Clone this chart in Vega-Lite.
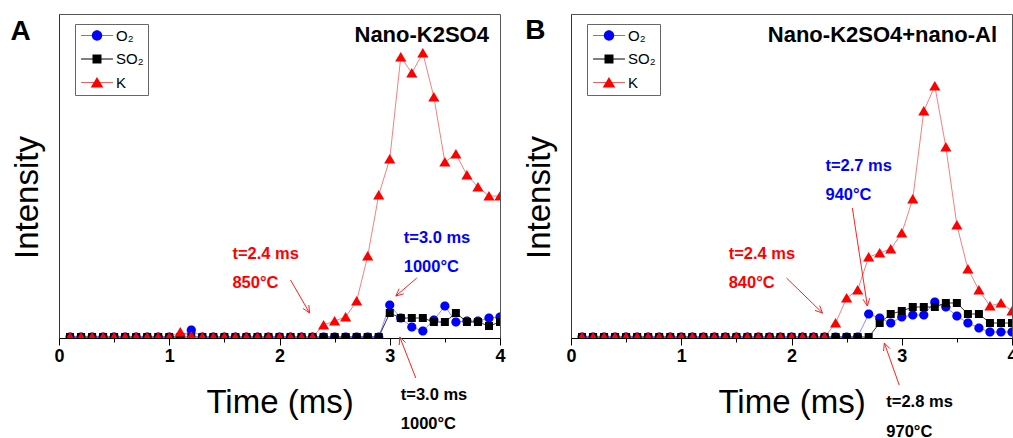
{
"$schema": "https://vega.github.io/schema/vega-lite/v6.json",
"padding": {"left": 9, "top": 13, "right": 0, "bottom": 0},
"bounds": "flush",
"spacing": 71,
"resolve": {"scale": {"color": "independent", "shape": "independent", "stroke": "independent"}, "legend": {"color": "independent", "shape": "independent", "stroke": "independent"}},
"config": {
  "font": "Liberation Sans",
  "view": {"stroke": "#555", "strokeWidth": 1},
  "axisX": {"domainColor": "#000", "domainWidth": 1.2, "tickColor": "#000", "tickWidth": 1, "labelFontSize": 18, "labelFontWeight": "bold", "labelColor": "#000", "labelPadding": 2, "titleFontSize": 33, "titleFontWeight": "normal", "titleColor": "#000", "titleBaseline": "alphabetic", "titleY": 74, "grid": false, "labelFlush": false, "labelOverlap": false, "labelBound": false},
  "axisY": {"domainColor": "#333", "domainWidth": 1, "ticks": false, "labels": false, "grid": false, "titleFontSize": 33, "titleFontWeight": "normal", "titleColor": "#000", "titleBaseline": "alphabetic", "titleX": -22, "titleY": 183},
  "legend": {"orient": "none", "legendX": 16, "legendY": 10, "title": null, "padding": 4, "symbolSize": 81, "symbolOffset": 10.5, "labelOffset": 11.5, "rowPadding": 7.5, "labelFontSize": 15, "labelColor": "#000"}
},
"datasets": {
  "series": [
    {"p":"A","t":0.1,"O2":2,"SO2":2,"K":2},{"p":"A","t":0.2,"O2":2,"SO2":2,"K":2},{"p":"A","t":0.3,"O2":2,"SO2":2,"K":2},{"p":"A","t":0.4,"O2":2,"SO2":2,"K":2},{"p":"A","t":0.5,"O2":2,"SO2":2,"K":2},
    {"p":"A","t":0.6,"O2":2,"SO2":2,"K":2},{"p":"A","t":0.7,"O2":2,"SO2":2,"K":2},{"p":"A","t":0.8,"O2":2,"SO2":2,"K":2},{"p":"A","t":0.9,"O2":2,"SO2":2,"K":2},{"p":"A","t":1.0,"O2":2,"SO2":2,"K":2},
    {"p":"A","t":1.1,"O2":2,"SO2":2,"K":7},{"p":"A","t":1.2,"O2":9,"SO2":2,"K":3},{"p":"A","t":1.3,"O2":2,"SO2":2,"K":2},{"p":"A","t":1.4,"O2":2,"SO2":2,"K":2},{"p":"A","t":1.5,"O2":2,"SO2":2,"K":2},
    {"p":"A","t":1.6,"O2":2,"SO2":2,"K":2},{"p":"A","t":1.7,"O2":2,"SO2":2,"K":2},{"p":"A","t":1.8,"O2":2,"SO2":2,"K":2},{"p":"A","t":1.9,"O2":2,"SO2":2,"K":2},{"p":"A","t":2.0,"O2":2,"SO2":2,"K":2},
    {"p":"A","t":2.1,"O2":2,"SO2":2,"K":2},{"p":"A","t":2.2,"O2":2,"SO2":2,"K":2},{"p":"A","t":2.3,"O2":2,"SO2":2,"K":2},{"p":"A","t":2.4,"O2":2,"SO2":2,"K":14},{"p":"A","t":2.5,"O2":2,"SO2":2,"K":18},
    {"p":"A","t":2.6,"O2":2,"SO2":2,"K":22},{"p":"A","t":2.7,"O2":2,"SO2":2,"K":38},{"p":"A","t":2.8,"O2":2,"SO2":2,"K":83},{"p":"A","t":2.9,"O2":2,"SO2":2,"K":144},{"p":"A","t":3.0,"O2":34,"SO2":26,"K":180},
    {"p":"A","t":3.1,"O2":21,"SO2":21,"K":282},{"p":"A","t":3.2,"O2":12,"SO2":21,"K":266},{"p":"A","t":3.3,"O2":8,"SO2":21,"K":286},{"p":"A","t":3.4,"O2":19,"SO2":17,"K":242},{"p":"A","t":3.5,"O2":33,"SO2":17,"K":177},
    {"p":"A","t":3.6,"O2":17,"SO2":26,"K":185},{"p":"A","t":3.7,"O2":18,"SO2":17,"K":164},{"p":"A","t":3.8,"O2":18,"SO2":17,"K":152},{"p":"A","t":3.9,"O2":21,"SO2":13,"K":143},{"p":"A","t":4.0,"O2":22,"SO2":17,"K":143},
    {"p":"B","t":0.1,"O2":2,"SO2":2,"K":2},{"p":"B","t":0.2,"O2":2,"SO2":2,"K":2},{"p":"B","t":0.3,"O2":2,"SO2":2,"K":2},{"p":"B","t":0.4,"O2":2,"SO2":2,"K":2},{"p":"B","t":0.5,"O2":2,"SO2":2,"K":2},
    {"p":"B","t":0.6,"O2":2,"SO2":2,"K":2},{"p":"B","t":0.7,"O2":2,"SO2":2,"K":2},{"p":"B","t":0.8,"O2":2,"SO2":2,"K":2},{"p":"B","t":0.9,"O2":2,"SO2":2,"K":2},{"p":"B","t":1.0,"O2":2,"SO2":2,"K":2},
    {"p":"B","t":1.1,"O2":2,"SO2":2,"K":2},{"p":"B","t":1.2,"O2":2,"SO2":2,"K":2},{"p":"B","t":1.3,"O2":2,"SO2":2,"K":2},{"p":"B","t":1.4,"O2":2,"SO2":2,"K":2},{"p":"B","t":1.5,"O2":2,"SO2":2,"K":2},
    {"p":"B","t":1.6,"O2":2,"SO2":2,"K":2},{"p":"B","t":1.7,"O2":2,"SO2":2,"K":2},{"p":"B","t":1.8,"O2":2,"SO2":2,"K":2},{"p":"B","t":1.9,"O2":2,"SO2":2,"K":2},{"p":"B","t":2.0,"O2":2,"SO2":2,"K":2},
    {"p":"B","t":2.1,"O2":2,"SO2":2,"K":2},{"p":"B","t":2.2,"O2":2,"SO2":2,"K":2},{"p":"B","t":2.3,"O2":2,"SO2":2,"K":2},{"p":"B","t":2.4,"O2":2,"SO2":2,"K":16},{"p":"B","t":2.5,"O2":2,"SO2":2,"K":41},
    {"p":"B","t":2.6,"O2":2,"SO2":2,"K":49},{"p":"B","t":2.7,"O2":25,"SO2":2,"K":82},{"p":"B","t":2.8,"O2":21,"SO2":16,"K":86},{"p":"B","t":2.9,"O2":16,"SO2":25,"K":90},{"p":"B","t":3.0,"O2":22,"SO2":28,"K":106},
    {"p":"B","t":3.1,"O2":24,"SO2":32,"K":140},{"p":"B","t":3.2,"O2":24,"SO2":32,"K":228},{"p":"B","t":3.3,"O2":37,"SO2":32,"K":253},{"p":"B","t":3.4,"O2":32,"SO2":36,"K":192},{"p":"B","t":3.5,"O2":23,"SO2":36,"K":114},
    {"p":"B","t":3.6,"O2":16,"SO2":25,"K":70},{"p":"B","t":3.7,"O2":11,"SO2":25,"K":49},{"p":"B","t":3.8,"O2":7,"SO2":16,"K":33},{"p":"B","t":3.9,"O2":7,"SO2":16,"K":36},{"p":"B","t":4.0,"O2":7,"SO2":16,"K":28}
  ],
  "notes": [
    {"p":"A","s":"K","t":1.573,"v":80,"text":"t=2.4 ms"},
    {"p":"A","s":"K","t":1.573,"v":51,"text":"850°C"},
    {"p":"A","s":"O2","t":3.127,"v":96,"text":"t=3.0 ms"},
    {"p":"A","s":"O2","t":3.127,"v":67,"text":"1000°C"},
    {"p":"A","s":"SO2","t":3.1,"v":-61,"text":"t=3.0 ms"},
    {"p":"A","s":"SO2","t":3.1,"v":-90,"text":"1000°C"},
    {"p":"B","s":"O2","t":2.308,"v":168,"text":"t=2.7 ms"},
    {"p":"B","s":"O2","t":2.308,"v":139,"text":"940°C"},
    {"p":"B","s":"K","t":1.43,"v":80,"text":"t=2.4 ms"},
    {"p":"B","s":"K","t":1.43,"v":51,"text":"840°C"},
    {"p":"B","s":"SO2","t":2.86,"v":-68,"text":"t=2.8 ms"},
    {"p":"B","s":"SO2","t":2.86,"v":-98,"text":"970°C"}
  ],
  "arrows": [
    {"p":"A","t":2.100,"v":59,"t2":2.273,"v2":26},
    {"p":"A","t":2.273,"v":26,"t2":2.266,"v2":34},
    {"p":"A","t":2.273,"v":26,"t2":2.213,"v2":30.6},
    {"p":"A","t":3.245,"v":61,"t2":3.055,"v2":43},
    {"p":"A","t":3.055,"v":43,"t2":3.125,"v2":45.1},
    {"p":"A","t":3.055,"v":43,"t2":3.085,"v2":50.3},
    {"p":"A","t":3.236,"v":-39,"t2":3.091,"v2":2},
    {"p":"A","t":3.091,"v":2,"t2":3.086,"v2":-6},
    {"p":"A","t":3.091,"v":2,"t2":3.144,"v2":-3.5},
    {"p":"B","t":1.955,"v":61,"t2":2.281,"v2":26},
    {"p":"B","t":2.281,"v":26,"t2":2.255,"v2":33.5},
    {"p":"B","t":2.281,"v":26,"t2":2.212,"v2":28.6},
    {"p":"B","t":2.552,"v":131,"t2":2.688,"v2":33},
    {"p":"B","t":2.688,"v":33,"t2":2.709,"v2":40.7},
    {"p":"B","t":2.688,"v":33,"t2":2.648,"v2":39.7},
    {"p":"B","t":2.977,"v":-46,"t2":2.842,"v2":-4},
    {"p":"B","t":2.842,"v":-4,"t2":2.835,"v2":-12},
    {"p":"B","t":2.842,"v":-4,"t2":2.893,"v2":-9.7}
  ],
  "panels": [
    {"p":"A","letter":"A","name":"Nano-K2SO4"},
    {"p":"B","letter":"B","name":"Nano-K2SO4+nano-Al"}
  ]
},
"hconcat": [
  {
    "width": 441, "height": 324,
    "layer": [
      {"data": {"name": "series"}, "transform": [{"filter": "datum.p==='A'"}, {"fold": ["O2","SO2","K"], "as": ["s","v"]}],
       "mark": {"type": "line", "strokeWidth": 0.8, "clip": true},
       "encoding": {
         "x": {"field": "t", "type": "quantitative", "scale": {"domain": [0,4], "nice": false, "zero": false},
               "axis": {"title": "Time (ms)", "values": [0,0.5,1,1.5,2,2.5,3,3.5,4], "labelExpr": "datum.value % 1 === 0 ? format(datum.value,'d') : ''", "tickSize": {"condition": {"test": "datum.value % 1 === 0", "value": 7}, "value": 4}}},
         "y": {"field": "v", "type": "quantitative", "scale": {"domain": [1,325], "nice": false, "zero": false}, "axis": {"title": "Intensity"}},
         "stroke": {"field": "s", "type": "nominal", "scale": {"domain": ["SO2","O2","K"], "range": ["#000000","#7070ff","#f06060"]},
           "legend": {"values": ["O2","SO2","K"], "symbolType": "M-3.55,0H3.55", "symbolStrokeWidth": 1, "labelOpacity": 0, "strokeColor": "transparent", "fillColor": "transparent",
             "labelExpr": "datum.value==='O2' ? 'O₂' : datum.value==='SO2' ? 'SO₂' : 'K'"}}
       }},
      {"data": {"name": "series"}, "transform": [{"filter": "datum.p==='A'"}, {"fold": ["O2","SO2","K"], "as": ["s","v"]}],
       "mark": {"type": "point", "filled": true, "opacity": 1, "size": 64, "clip": true},
       "encoding": {
         "x": {"field": "t", "type": "quantitative"},
         "y": {"field": "v", "type": "quantitative"},
         "color": {"field": "s", "type": "nominal", "scale": {"domain": ["O2","SO2","K"], "range": ["#0000ff","#000000","#ff0000"]},
           "legend": {"strokeColor": "#666", "fillColor": "transparent", "labelExpr": "datum.value==='O2' ? 'O₂' : datum.value==='SO2' ? 'SO₂' : 'K'"}},
         "shape": {"field": "s", "type": "nominal", "scale": {"domain": ["O2","SO2","K"], "range": ["M1.15,0A1.15,1.15,0,1,1,-1.15,0A1.15,1.15,0,1,1,1.15,0Z","M-1,-1H1V1H-1Z","M0,-1.25L1.4,1.1H-1.4Z"]}}
       }},
      {"data": {"name": "arrows"}, "transform": [{"filter": "datum.p==='A'"}],
       "mark": {"type": "rule", "color": "#ff2020", "strokeWidth": 1, "clip": false},
       "encoding": {"x": {"field": "t", "type": "quantitative"}, "y": {"field": "v", "type": "quantitative"}, "x2": {"field": "t2"}, "y2": {"field": "v2"}}},
      {"data": {"name": "notes"}, "transform": [{"filter": "datum.p==='A'"}],
       "mark": {"type": "text", "align": "left", "baseline": "alphabetic", "fontSize": 16.5, "fontWeight": "bold", "clip": false},
       "encoding": {"x": {"field": "t", "type": "quantitative"}, "y": {"field": "v", "type": "quantitative"}, "text": {"field": "text"},
         "fill": {"condition": [{"test": "datum.s==='O2'", "value": "#0000ff"}, {"test": "datum.s==='K'", "value": "#ff0000"}], "value": "#000000"}}},
      {"data": {"name": "panels"}, "transform": [{"filter": "datum.p==='A'"}],
       "mark": {"type": "text", "align": "right", "baseline": "alphabetic", "fontSize": 22, "fontWeight": "bold", "color": "#000"},
       "encoding": {"x": {"datum": 3.9, "type": "quantitative"}, "y": {"datum": 297, "type": "quantitative"}, "text": {"field": "name"}}},
      {"data": {"name": "panels"}, "transform": [{"filter": "datum.p==='A'"}],
       "mark": {"type": "text", "align": "left", "baseline": "alphabetic", "fontSize": 28, "fontWeight": "bold", "color": "#000", "clip": false},
       "encoding": {"x": {"datum": -0.44, "type": "quantitative"}, "y": {"datum": 299, "type": "quantitative"}, "text": {"field": "letter"}}}
    ]
  },
  {
    "width": 441, "height": 324,
    "layer": [
      {"data": {"name": "series"}, "transform": [{"filter": "datum.p==='B'"}, {"fold": ["O2","SO2","K"], "as": ["s","v"]}],
       "mark": {"type": "line", "strokeWidth": 0.8, "clip": true},
       "encoding": {
         "x": {"field": "t", "type": "quantitative", "scale": {"domain": [0,4], "nice": false, "zero": false},
               "axis": {"title": "Time (ms)", "values": [0,0.5,1,1.5,2,2.5,3,3.5,4], "labelExpr": "datum.value % 1 === 0 ? format(datum.value,'d') : ''", "tickSize": {"condition": {"test": "datum.value % 1 === 0", "value": 7}, "value": 4}}},
         "y": {"field": "v", "type": "quantitative", "scale": {"domain": [1,325], "nice": false, "zero": false}, "axis": {"title": "Intensity"}},
         "stroke": {"field": "s", "type": "nominal", "scale": {"domain": ["SO2","O2","K"], "range": ["#000000","#7070ff","#f06060"]},
           "legend": {"values": ["O2","SO2","K"], "symbolType": "M-3.55,0H3.55", "symbolStrokeWidth": 1, "labelOpacity": 0, "strokeColor": "transparent", "fillColor": "transparent",
             "labelExpr": "datum.value==='O2' ? 'O₂' : datum.value==='SO2' ? 'SO₂' : 'K'"}}
       }},
      {"data": {"name": "series"}, "transform": [{"filter": "datum.p==='B'"}, {"fold": ["O2","SO2","K"], "as": ["s","v"]}],
       "mark": {"type": "point", "filled": true, "opacity": 1, "size": 64, "clip": true},
       "encoding": {
         "x": {"field": "t", "type": "quantitative"},
         "y": {"field": "v", "type": "quantitative"},
         "color": {"field": "s", "type": "nominal", "scale": {"domain": ["O2","SO2","K"], "range": ["#0000ff","#000000","#ff0000"]},
           "legend": {"strokeColor": "#666", "fillColor": "transparent", "labelExpr": "datum.value==='O2' ? 'O₂' : datum.value==='SO2' ? 'SO₂' : 'K'"}},
         "shape": {"field": "s", "type": "nominal", "scale": {"domain": ["O2","SO2","K"], "range": ["M1.15,0A1.15,1.15,0,1,1,-1.15,0A1.15,1.15,0,1,1,1.15,0Z","M-1,-1H1V1H-1Z","M0,-1.25L1.4,1.1H-1.4Z"]}}
       }},
      {"data": {"name": "arrows"}, "transform": [{"filter": "datum.p==='B'"}],
       "mark": {"type": "rule", "color": "#ff2020", "strokeWidth": 1, "clip": false},
       "encoding": {"x": {"field": "t", "type": "quantitative"}, "y": {"field": "v", "type": "quantitative"}, "x2": {"field": "t2"}, "y2": {"field": "v2"}}},
      {"data": {"name": "notes"}, "transform": [{"filter": "datum.p==='B'"}],
       "mark": {"type": "text", "align": "left", "baseline": "alphabetic", "fontSize": 16.5, "fontWeight": "bold", "clip": false},
       "encoding": {"x": {"field": "t", "type": "quantitative"}, "y": {"field": "v", "type": "quantitative"}, "text": {"field": "text"},
         "fill": {"condition": [{"test": "datum.s==='O2'", "value": "#0000ff"}, {"test": "datum.s==='K'", "value": "#ff0000"}], "value": "#000000"}}},
      {"data": {"name": "panels"}, "transform": [{"filter": "datum.p==='B'"}],
       "mark": {"type": "text", "align": "right", "baseline": "alphabetic", "fontSize": 22, "fontWeight": "bold", "color": "#000"},
       "encoding": {"x": {"datum": 3.864, "type": "quantitative"}, "y": {"datum": 297, "type": "quantitative"}, "text": {"field": "name"}}},
      {"data": {"name": "panels"}, "transform": [{"filter": "datum.p==='B'"}],
       "mark": {"type": "text", "align": "left", "baseline": "alphabetic", "fontSize": 28, "fontWeight": "bold", "color": "#000", "clip": false},
       "encoding": {"x": {"datum": -0.416, "type": "quantitative"}, "y": {"datum": 300, "type": "quantitative"}, "text": {"field": "letter"}}}
    ]
  }
]
}
